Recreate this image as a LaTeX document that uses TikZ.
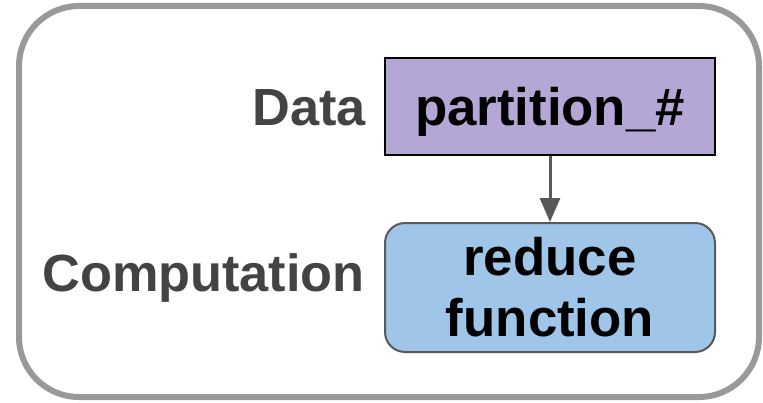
\documentclass[tikz,border=0pt]{standalone}
\usepackage{fontspec}
\setmainfont{Liberation Sans}
\usetikzlibrary{arrows.meta}
\definecolor{framegray}{HTML}{999999}
\definecolor{labelgray}{HTML}{434343}
\definecolor{arrowgray}{HTML}{595959}
\definecolor{datapurple}{HTML}{B4A7D6}
\definecolor{compblue}{HTML}{9FC5E8}
\tikzset{
  rowlabel/.style={labelgray,anchor=base east,inner sep=0pt,font=\fontsize{52.5}{61}\selectfont\bfseries},
  boxtext/.style={minimum width=330bp,inner sep=0pt,align=center,font=\fontsize{53}{61}\selectfont\bfseries}
}

\begin{document}
\begin{tikzpicture}[x=1bp,y=1bp]
\path[use as bounding box] (0,0) rectangle (763,402);
\draw[framegray,line width=6bp,rounded corners=60bp] (19,5) rectangle (759,396);
\node[boxtext,fill=datapurple,draw=black,line width=1.5bp,minimum height=97bp,text height=40bp,text depth=3bp] (part) at (550,295.5) {partition\_\#};
\node[boxtext,fill=compblue,draw=arrowgray,line width=2bp,rounded corners=20bp,minimum height=129bp] (reduce) at (550,114.5) {reduce\\function};
\node[rowlabel] (datalbl) at (366,277) {Data};
\node[rowlabel] (complbl) at (365,111) {Computation};
\draw[arrowgray,line width=3bp,-{Triangle[length=24bp,width=20bp]}] (part.south) -- (reduce.north);
\end{tikzpicture}
\end{document}
